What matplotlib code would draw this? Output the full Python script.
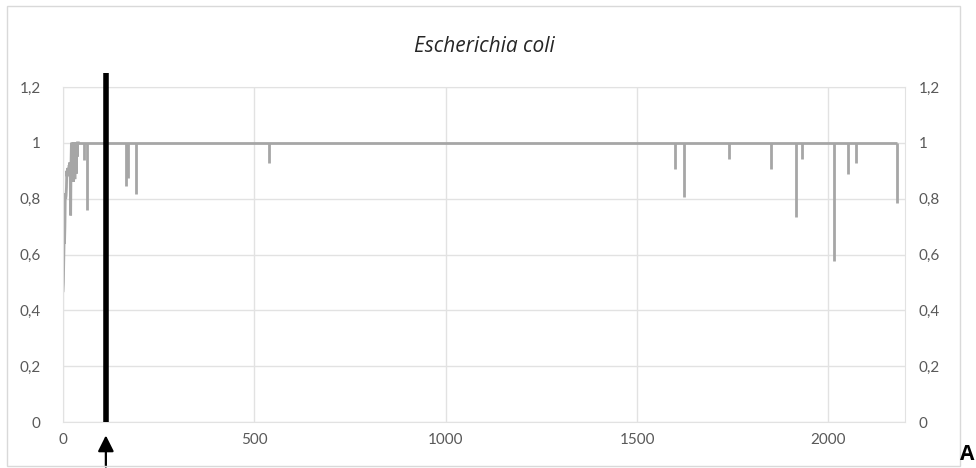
import matplotlib.pyplot as plt
from matplotlib.patches import Rectangle

plt.rcParams['font.family'] = ['Lato', 'DejaVu Sans']

# early, jagged part of the curve
early_x = [0, 1, 2, 3, 4, 5, 6, 7, 8, 9, 10, 11, 12, 13, 14, 15, 16, 17,
           18, 19, 20, 21, 22, 23, 24, 25, 26, 27, 28, 29, 30, 31, 32, 33,
           34, 35, 36, 37, 38, 39, 40]
early_y = [0.47, 0.50, 0.58, 0.66, 0.64, 0.70, 0.82, 0.80, 0.81, 0.84, 0.90, 0.88,
           0.91, 0.89, 0.91, 0.90, 0.92, 0.91, 0.93, 0.87, 0.74, 0.93, 1.0, 0.86,
           1.0, 0.87, 1.0, 0.86, 1.0, 0.88, 1.0, 0.87, 1.0, 0.93, 1.0, 0.89,
           1.0, 0.95, 1.0, 1.0, 1.0]

# single-position dips below 1
dip_x = [55, 62, 164, 170, 190, 538, 1598, 1622, 1739, 1851, 1916, 1931,
         2014, 2050, 2071, 2178]
dip_y = [0.94, 0.76, 0.845, 0.875, 0.817, 0.929, 0.907, 0.805, 0.942, 0.907,
         0.734, 0.942, 0.576, 0.888, 0.929, 0.786]

end_x = 2178
marker_x = 112

xticks = [0, 500, 1000, 1500, 2000]
yticks = [0, 0.2, 0.4, 0.6, 0.8, 1.0, 1.2]
ylabels = ['0', '0,2', '0,4', '0,6', '0,8', '1', '1,2']

W, H = 976, 468
fig = plt.figure(figsize=(W / 100, H / 100), dpi=100)
fig.patches.append(Rectangle((7 / W, 2 / H), 953 / W, 460 / H, transform=fig.transFigure,
                             fill=False, edgecolor='#D9D9D9', lw=1))

ax = fig.add_axes([63 / W, (H - 422) / H, 842 / W, 335 / H])
grey = '#A6A6A6'
grid = '#E2E2E2'
txt = '#595959'

ax.plot(early_x, early_y, color=grey, lw=2, solid_joinstyle='miter')
ax.hlines(1, early_x[-1], end_x, color=grey, lw=2)
ax.vlines(dip_x, dip_y, 1, color=grey, lw=2)

ax.set_xlim(0, 2200)
ax.set_ylim(0, 1.2)
ax.set_xticks(xticks)
ax.set_yticks(yticks)
ax.set_yticklabels(ylabels)
ax.grid(True, color=grid, lw=1)
ax.set_axisbelow(True)
for s in ax.spines.values():
    s.set_color(grid)
ax.tick_params(length=0, labelsize=11, labelcolor=txt)
ax.tick_params(axis='y', pad=16)
ax.tick_params(axis='x', pad=8)

ax2 = ax.twinx()
ax2.set_ylim(0, 1.2)
ax2.set_yticks(yticks)
ax2.set_yticklabels(ylabels)
ax2.tick_params(length=0, labelsize=11, labelcolor=txt, pad=10)
for s in ax2.spines.values():
    s.set_visible(False)

# marker line and arrow
ax.vlines(marker_x, 0, 1.25, color='black', lw=4, clip_on=False, zorder=5)
ax.annotate('', xy=(marker_x, -0.038), xytext=(marker_x, -0.17),
            arrowprops=dict(arrowstyle='-|>', color='black', lw=1.6, mutation_scale=24),
            annotation_clip=False)

fig.text(484 / W, 1 - 46 / H, 'Escherichia coli', ha='center', va='center',
         fontsize=15, style='italic', color='#262626', family='Open Sans')
fig.text(967 / W, 1 - 455 / H, 'A', ha='center', va='center', fontsize=15,
         fontweight='bold', color='black', family='Open Sans')

fig.savefig('out.png', dpi=100)
